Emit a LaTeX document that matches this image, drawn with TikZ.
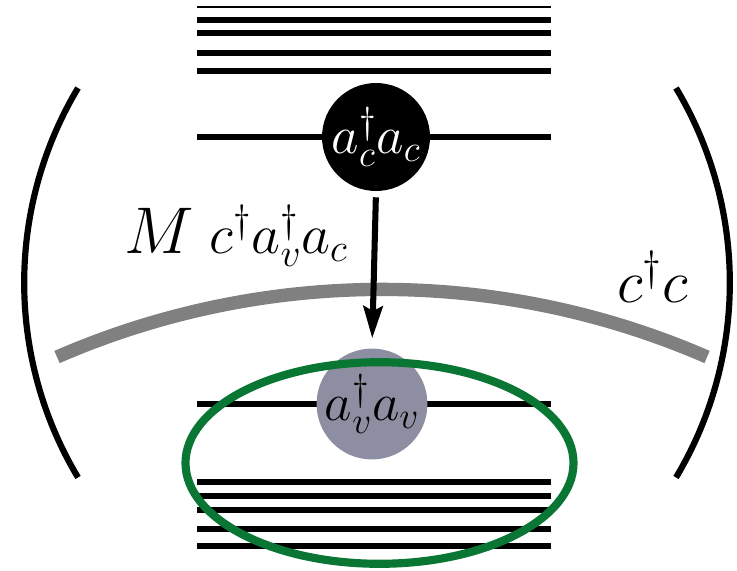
\RequirePackage{fix-cm}
\documentclass[tikz,border=0pt]{standalone}
\usepackage{amsmath}
\usepackage{tikz}
\usetikzlibrary{arrows.meta}
\definecolor{levgray}{RGB}{142,142,162}
\definecolor{cavgray}{RGB}{128,128,128}
\definecolor{bandgreen}{RGB}{10,118,52}

\begin{document}
\begin{tikzpicture}[
  font=\fontsize{38}{44}\selectfont,
  >={Stealth[length=0.8cm,width=0.48cm,inset=0.12cm]},
  lev/.style={line width=4.7pt},
  thinlev/.style={line width=2pt},
  paren/.style={line width=4.4pt},
  cavity/.style={draw=cavgray, line width=9.5pt},
  occ/.style={circle, fill=black, text=white, minimum size=2.7cm, inner sep=0pt},
  emp/.style={circle, fill=levgray, minimum size=2.72cm, inner sep=0pt},
  band/.style={draw=bandgreen, line width=5.8pt},
  arr/.style={->, line width=4.3pt, shorten <=0.15cm, shorten >=0.25cm}
]
\useasboundingbox (0,0) rectangle (18.425,14.25);
% conduction levels
\draw[thinlev] (4.925,14.075) -- (13.775,14.075);
\draw[lev] (4.925,13.75) -- (13.775,13.75) (4.925,13.425) -- (13.775,13.425)
  (4.925,12.925) -- (13.775,12.925) (4.925,12.475) -- (13.775,12.475);
\draw[lev] (4.925,10.825) -- (13.775,10.825);
% valence levels
\draw[lev] (4.925,4.15) -- (13.775,4.15);
\draw[lev] (4.925,2.2) -- (13.775,2.2) (4.925,1.85) -- (13.775,1.85)
  (4.925,1.5) -- (13.775,1.5) (4.925,1.025) -- (13.775,1.025) (4.925,0.6) -- (13.775,0.6);
% cavity mode and mirrors
\draw[cavity] (1.425,5.325) arc[start angle=113.5, end angle=66.5, radius=20.38];
\draw[paren] (1.95,12.05) arc[start angle=149.1, end angle=210.9, radius=9.48];
\draw[paren] (16.9,12.05) arc[start angle=30.9, end angle=-30.9, radius=9.48];
\node[occ] (cex) at (9.4,10.825) {$a_c^\dagger a_c$};
\node[emp] (vex) at (9.3,4.15) {$a_v^\dagger a_v$};
\draw[band] (9.4875,2.675) ellipse[x radius=4.85cm, y radius=2.52cm];
\draw[arr] (cex.south) -- (vex.north);
\node[anchor=base west, inner sep=0pt] (cpl) at (3.1,7.925) {{\fontsize{47}{50}\selectfont$M$}\fontsize{40}{44}\selectfont\hspace{0.4cm}$c^\dagger a_v^\dagger a_c$};
\node[anchor=base west, inner sep=0pt, font=\fontsize{43}{48}\selectfont] (cav) at (15.425,6.7) {$c^\dagger c$};
\end{tikzpicture}
\end{document}
